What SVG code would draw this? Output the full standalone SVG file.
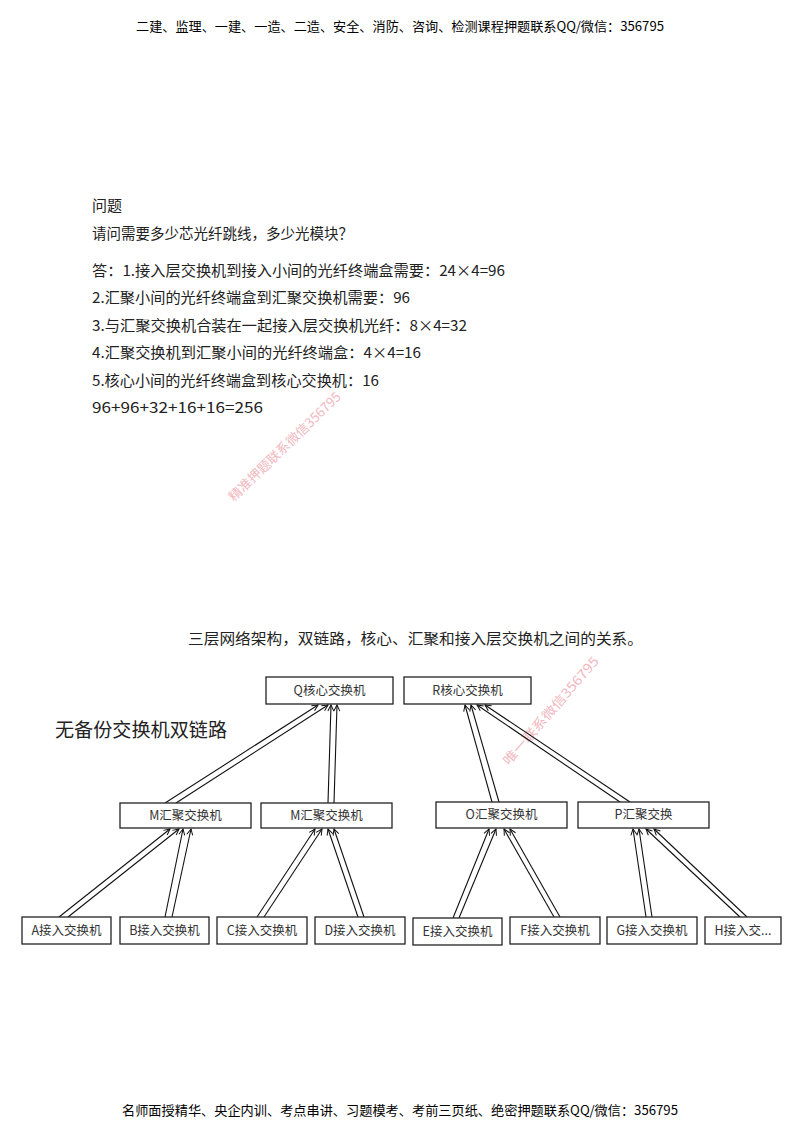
<svg xmlns="http://www.w3.org/2000/svg" width="800" height="1132" viewBox="0 0 800 1132">
<style>
.hdr{font-family:"Noto Sans CJK SC","Liberation Sans",sans-serif;font-size:13px;fill:#000}
.body{font-family:"Noto Sans CJK SC","Liberation Sans",sans-serif;font-size:15px;fill:#222}
.wm{font-family:"Noto Sans CJK SC","Liberation Sans",sans-serif;font-size:13px;fill:#f2b8c0}
.box{fill:#fff;stroke:#222;stroke-width:1.3}
.lbl{font-family:"Noto Sans CJK SC","Liberation Sans",sans-serif;font-size:12.5px;fill:#333;text-anchor:middle}
.lk{stroke:#111;stroke-width:1.1;fill:none;marker-end:url(#ah)}
</style>
<defs>
<marker id="ah" markerWidth="8" markerHeight="8" refX="7" refY="4" orient="auto" markerUnits="userSpaceOnUse">
<path d="M1,1 L7,4 L1,7" fill="none" stroke="#111" stroke-width="1"/>
</marker>
</defs>
<rect width="800" height="1132" fill="#fff"/>
<text class="hdr" x="136" y="31" textLength="528" lengthAdjust="spacingAndGlyphs">二建、监理、一建、一造、二造、安全、消防、咨询、检测课程押题联系QQ/微信：356795</text>
<text class="body" x="92" y="211">问题</text>
<text class="body" x="92" y="239" textLength="261" lengthAdjust="spacingAndGlyphs">请问需要多少芯光纤跳线，多少光模块？</text>
<text class="body" x="92" y="276" textLength="413" lengthAdjust="spacingAndGlyphs">答：1.接入层交换机到接入小间的光纤终端盒需要：24×4=96</text>
<text class="body" x="92" y="303" textLength="318" lengthAdjust="spacingAndGlyphs">2.汇聚小间的光纤终端盒到汇聚交换机需要：96</text>
<text class="body" x="92" y="331" textLength="375" lengthAdjust="spacingAndGlyphs">3.与汇聚交换机合装在一起接入层交换机光纤：8×4=32</text>
<text class="body" x="92" y="358" textLength="329" lengthAdjust="spacingAndGlyphs">4.汇聚交换机到汇聚小间的光纤终端盒：4×4=16</text>
<text class="body" x="92" y="386" textLength="287" lengthAdjust="spacingAndGlyphs">5.核心小间的光纤终端盒到核心交换机：16</text>
<text class="body" x="92" y="413" textLength="171" lengthAdjust="spacingAndGlyphs">96+96+32+16+16=256</text>
<text class="wm" transform="translate(234,502) rotate(-44)" textLength="150" lengthAdjust="spacingAndGlyphs">精准押题联系微信356795</text>
<text class="wm" transform="translate(509,766) rotate(-49)" textLength="138" lengthAdjust="spacingAndGlyphs">唯一联系微信356795</text>
<text class="body" x="188" y="644" textLength="455" lengthAdjust="spacingAndGlyphs">三层网络架构，双链路，核心、汇聚和接入层交换机之间的关系。</text>
<text class="body" x="55" y="737" style="font-size:19px" textLength="172" lengthAdjust="spacingAndGlyphs">无备份交换机双链路</text>
<g id="connectors">
<line class="lk" x1="165" y1="803" x2="318" y2="705"/>
<line class="lk" x1="176" y1="803" x2="328" y2="705"/>
<line class="lk" x1="328" y1="803" x2="331" y2="705"/>
<line class="lk" x1="334" y1="803" x2="337" y2="705"/>
<line class="lk" x1="492" y1="802" x2="465" y2="705"/>
<line class="lk" x1="499" y1="802" x2="471" y2="705"/>
<line class="lk" x1="620" y1="802" x2="477" y2="705"/>
<line class="lk" x1="630" y1="802" x2="485" y2="705"/>
<line class="lk" x1="59" y1="917" x2="170" y2="829"/>
<line class="lk" x1="68" y1="917" x2="179" y2="829"/>
<line class="lk" x1="165" y1="917" x2="183" y2="829"/>
<line class="lk" x1="172" y1="917" x2="191" y2="829"/>
<line class="lk" x1="257" y1="917" x2="315" y2="829"/>
<line class="lk" x1="264" y1="917" x2="322" y2="829"/>
<line class="lk" x1="358" y1="917" x2="328" y2="829"/>
<line class="lk" x1="364" y1="917" x2="334" y2="829"/>
<line class="lk" x1="453" y1="918" x2="489" y2="829"/>
<line class="lk" x1="459" y1="918" x2="496" y2="829"/>
<line class="lk" x1="554" y1="917" x2="504" y2="829"/>
<line class="lk" x1="560" y1="917" x2="510" y2="829"/>
<line class="lk" x1="646" y1="917" x2="633" y2="829"/>
<line class="lk" x1="652" y1="917" x2="639" y2="829"/>
<line class="lk" x1="740" y1="917" x2="646" y2="829"/>
<line class="lk" x1="747" y1="917" x2="654" y2="829"/>
</g>
<g id="Q"><rect class="box" x="266" y="677" width="127" height="27"/><text class="lbl" x="329.5" y="695">Q核心交换机</text></g>
<g id="R"><rect class="box" x="404" y="677" width="127" height="27"/><text class="lbl" x="467.5" y="695">R核心交换机</text></g>
<g id="M1"><rect class="box" x="120" y="803" width="131" height="25"/><text class="lbl" x="185.5" y="820">M汇聚交换机</text></g>
<g id="M2"><rect class="box" x="261" y="803" width="131" height="25"/><text class="lbl" x="326.5" y="820">M汇聚交换机</text></g>
<g id="O"><rect class="box" x="436" y="802" width="131" height="26"/><text class="lbl" x="501.5" y="819">O汇聚交换机</text></g>
<g id="P"><rect class="box" x="578" y="802" width="131" height="26"/><text class="lbl" x="643.5" y="819">P汇聚交换</text></g>
<g id="A"><rect class="box" x="22" y="917" width="89" height="27"/><text class="lbl" x="66.5" y="935">A接入交换机</text></g>
<g id="B"><rect class="box" x="120" y="917" width="89" height="27"/><text class="lbl" x="164.5" y="935">B接入交换机</text></g>
<g id="C"><rect class="box" x="217" y="917" width="90" height="27"/><text class="lbl" x="262" y="935">C接入交换机</text></g>
<g id="D"><rect class="box" x="315" y="917" width="90" height="27"/><text class="lbl" x="360" y="935">D接入交换机</text></g>
<g id="E"><rect class="box" x="413" y="918" width="89" height="27"/><text class="lbl" x="457.5" y="936">E接入交换机</text></g>
<g id="F"><rect class="box" x="510" y="917" width="90" height="27"/><text class="lbl" x="555" y="935">F接入交换机</text></g>
<g id="G"><rect class="box" x="607" y="917" width="90" height="27"/><text class="lbl" x="652" y="935">G接入交换机</text></g>
<g id="H"><rect class="box" x="705" y="917" width="76" height="27"/><text class="lbl" x="743" y="935">H接入交...</text></g>
<text class="hdr" x="122" y="1115" textLength="556" lengthAdjust="spacingAndGlyphs">名师面授精华、央企内训、考点串讲、习题模考、考前三页纸、绝密押题联系QQ/微信：356795</text>
</svg>
